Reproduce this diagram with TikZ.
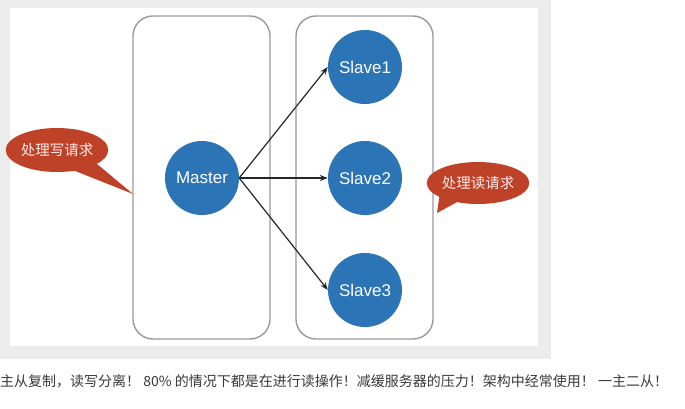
\documentclass[tikz,border=0pt]{standalone}
\usepackage{fontspec}
\setmainfont{Liberation Sans}
\newfontfamily\cjk{Noto Sans CJK SC}
\usetikzlibrary{arrows.meta,shapes.geometric}
\definecolor{frame}{HTML}{ECECEC}
\definecolor{nodeblue}{HTML}{2B74B6}
\definecolor{boxgray}{HTML}{9A9A9A}
\definecolor{callred}{HTML}{BE4227}
\definecolor{txtgray}{HTML}{3A3A3A}
\tikzset{
  server/.style={circle, fill=nodeblue, minimum size=74pt, inner sep=0pt, text=white, font=\fontsize{17}{20}\selectfont},
  group/.style={draw=boxgray, line width=1.4pt, rounded corners=20pt, minimum width=137pt, minimum height=323pt, inner sep=0pt},
  link/.style={draw=black!85, line width=1.2pt, -{Stealth[length=8pt,width=6pt]}},
  bubble/.style={ellipse, fill=callred, inner sep=0pt, text=white!92!red, font=\cjk\fontsize{14.5}{16}\selectfont},
}
\begin{document}
\begin{tikzpicture}[x=1pt,y=-1pt]
\useasboundingbox (0,0) rectangle (685,409);
\fill[white] (0,0) rectangle (685,409);
\fill[frame] (0,0) rectangle (551,359);
\fill[white] (10,8) rectangle (538,346);
% groups
\node[group] (gl) at (201.5,177.5) {};
\node[group] (gr) at (364.5,177.5) {};
% servers
\node[server] (m) at (202,178) {Master};
\node[server] (s1) at (365,67) {Slave1};
\node[server] (s2) at (365,178) {Slave2};
\node[server] (s3) at (365,290) {Slave3};
\draw[link] (m.east) -- (s1.west);
\draw[link] (m.east) -- (s2.west);
\draw[link] (m.east) -- (s3.west);
% callouts
\coordinate (lt) at (133,194);
\fill[callred] (72.7,170) -- (lt) -- (94.7,162) -- cycle;
\node[bubble, minimum width=92pt, minimum height=44pt] (lw) at (57,150) {处理写请求};
\coordinate (rt) at (437,213);
\fill[callred] (440,192) -- (rt) -- (459,201) -- cycle;
\node[bubble, minimum width=88pt, minimum height=42pt] (rr) at (478,183) {处理读请求};
% caption
\node[anchor=west, inner sep=0pt, text=txtgray, font=\cjk\fontsize{14}{16}\selectfont] (cap) at (0,381) {主从复制，读写分离！ 80\% 的情况下都是在进行读操作！减缓服务器的压力！架构中经常使用！ 一主二从！};
\end{tikzpicture}
\end{document}
